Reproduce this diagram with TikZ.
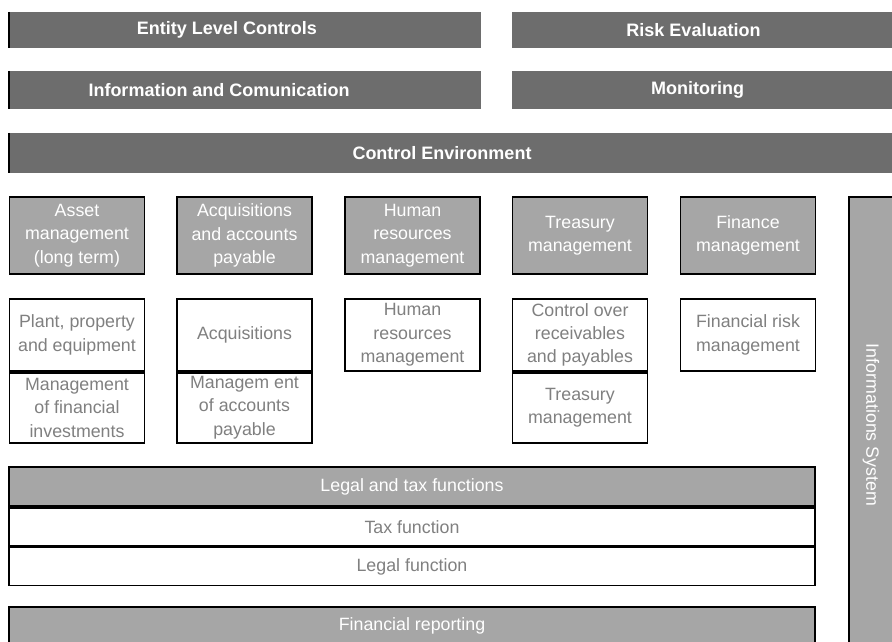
\documentclass[tikz,border=0pt]{standalone}
\usepackage{fontspec}
\setmainfont{Liberation Sans}
\usetikzlibrary{positioning}
\definecolor{darkbar}{HTML}{6D6D6D}
\definecolor{lightbox}{HTML}{A6A6A6}
\definecolor{greytext}{HTML}{808080}

\begin{document}
\begin{tikzpicture}[x=1pt, y=-1pt,
    topbar/.style={fill=darkbar, inner sep=0pt},
    bartext/.style={text=white, font=\fontsize{18}{21}\selectfont\bfseries, inner sep=0pt},
    edge/.style={line width=1.8pt},
    groupbox/.style={draw=black, line width=1.7pt, fill=lightbox, text=white,
        font=\fontsize{17.8}{23.3}\selectfont, align=center, inner sep=0pt,
        minimum width=135pt, minimum height=77pt},
    itembox/.style={draw=black, line width=1.7pt, fill=white, text=greytext,
        font=\fontsize{17.8}{23.3}\selectfont, align=center, inner sep=0pt,
        minimum width=135pt, minimum height=72pt},
    rowhead/.style={draw=black, line width=1.7pt, fill=lightbox, text=white,
        font=\fontsize{17.8}{21}\selectfont, inner sep=0pt,
        minimum width=806pt, minimum height=39pt},
    rowitem/.style={draw=black, line width=1.7pt, fill=white, text=greytext,
        font=\fontsize{17.8}{21}\selectfont, inner sep=0pt,
        minimum width=806pt, minimum height=38pt}]
    \useasboundingbox (0,0) rectangle (892,641);

    % top bars
    \node[topbar, minimum width=472pt, minimum height=36pt] (elc) at (245,30) {};
    \node[topbar, minimum width=385pt, minimum height=36pt] (risk) at (704.5,30) {};
    \node[topbar, minimum width=472pt, minimum height=38pt] (info) at (245,90) {};
    \node[topbar, minimum width=385pt, minimum height=38pt] (mon) at (704.5,90) {};
    \node[topbar, minimum width=888pt, minimum height=40pt] (ctrl) at (453,153) {};

    \node[bartext] (elctext) at ([xshift=-18pt]elc.center) {Entity Level Controls};
    \node[bartext] (risktext) at ([xshift=-11pt]risk.center) {Risk Evaluation};
    \node[bartext] (infotext) at ([xshift=-26pt]info.center) {Information and Comunication};
    \node[bartext] (montext) at ([xshift=-7pt]mon.center) {Monitoring};
    \node[bartext] (ctrltext) at ([xshift=-11pt]ctrl.center) {Control Environment};

    \draw[edge] (elc.north west) -- (elc.south west);
    \draw[edge] (info.north west) -- (info.south west);
    \draw[edge] (ctrl.north west) -- (ctrl.south west);

    % process areas
    \node[groupbox] (asset) at (77,235.5) {Asset\\management\\(long term)};
    \node[groupbox] (acq) at (244.5,235.5) {Acquisitions\\and accounts\\payable};
    \node[groupbox] (hr) at (412.5,235.5) {Human\\resources\\management};
    \node[groupbox] (treas) at (580,235.5) {Treasury\\management};
    \node[groupbox] (fin) at (748,235.5) {Finance\\management};

    % processes
    \node[itembox] (plant) at (77,335) {Plant, property\\and equipment};
    \node[itembox, minimum height=70pt, below=0pt of plant] (invest) {Management\\of financial\\investments};
    \node[itembox] (acqs) at (244.5,335) {Acquisitions};
    \node[itembox, minimum height=70pt, below=0pt of acqs] (payable) {Managem ent\\of accounts\\payable};
    \node[itembox] (hrm) at (412.5,335) {Human\\resources\\management};
    \node[itembox] (recv) at (580,335) {Control over\\receivables\\and payables};
    \node[itembox, minimum height=70pt, below=0pt of recv] (treasm) {Treasury\\management};
    \node[itembox] (finrisk) at (748,335) {Financial risk\\management};

    % legal and tax
    \node[rowhead] (legaltax) at (412,486.5) {Legal and tax functions};
    \node[rowitem, below=0pt of legaltax] (tax) {Tax function};
    \node[rowitem, below=0pt of tax] (legal) {Legal function};

    \node[rowhead, minimum height=38pt] (report) at (412,626) {Financial reporting};

    % side bar
    \node[draw=black, line width=1.7pt, fill=lightbox, text=white,
        font=\fontsize{17.8}{21}\selectfont, inner sep=0pt, rotate=-90,
        minimum width=456pt, minimum height=44pt] (infosys) at (871,425) {Informations System};
\end{tikzpicture}
\end{document}
